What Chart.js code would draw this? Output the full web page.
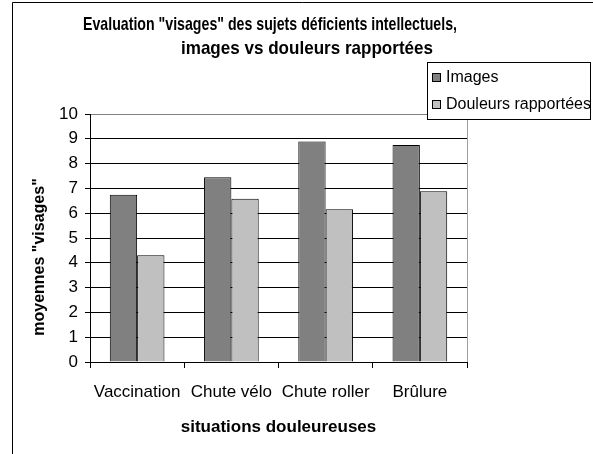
<!DOCTYPE html>
<html lang="fr">
<head>
<meta charset="utf-8">
<title>Evaluation "visages"</title>
<script src="https://cdn.jsdelivr.net/npm/chart.js@4.4.1/dist/chart.umd.min.js"></script>
<style>
  html, body { margin: 0; padding: 0; background: #fff; }
  #chart { display: block; }
</style>
</head>
<body>
<canvas id="chart" width="593" height="454"></canvas>
<script>
// Données
const categories = ["Vaccination", "Chute vélo", "Chute roller", "Brûlure"];
const seriesNames = ["Images", "Douleurs rapportées"];
const imagesValues = [6.74, 7.45, 8.89, 8.75];
const douleursValues = [4.30, 6.58, 6.16, 6.89];
const yTicks = [0, 1, 2, 3, 4, 5, 6, 7, 8, 9, 10];
const titleLines = ['Evaluation "visages" des sujets déficients intellectuels,', 'images vs douleurs rapportées'];
const xTitle = "situations douleureuses";
const yTitle = 'moyennes "visages"';

const FONT = "'Liberation Sans', Arial, sans-serif";
const colors = ["#808080", "#c0c0c0"];

// Écrit un texte centré, comprimé à la largeur voulue (titre style Excel)
function drawFitted(ctx, text, cx, y, width) {
    const w = ctx.measureText(text).width;
    ctx.save();
    ctx.translate(cx, y);
    ctx.scale(width / w, 1);
    ctx.fillText(text, 0, 0);
    ctx.restore();
}

// Cadre, titre, titre vertical et légende
const decorPlugin = {
    id: "decor",
    afterDraw(chart) {
        const ctx = chart.ctx;
        const area = chart.chartArea;
        ctx.save();

        // cadre extérieur (seuls les bords gauche et haut sont visibles)
        ctx.strokeStyle = "#000";
        ctx.lineWidth = 1;
        ctx.beginPath();
        ctx.moveTo(12.5, 454);
        ctx.lineTo(12.5, 2.5);
        ctx.lineTo(593, 2.5);
        ctx.stroke();

        // bord droit de la zone de traçage
        const xr = Math.round(area.right) + 0.5;
        ctx.strokeStyle = "#a0a0a0";
        ctx.beginPath();
        ctx.moveTo(xr, area.top);
        ctx.lineTo(xr, area.bottom);
        ctx.stroke();

        // titre sur deux lignes
        ctx.fillStyle = "#000";
        ctx.font = "bold 19px " + FONT;
        ctx.textAlign = "center";
        ctx.textBaseline = "alphabetic";
        drawFitted(ctx, titleLines[0], 270, 29.5, 374);
        drawFitted(ctx, titleLines[1], 307, 54, 252);

        // titre de l'axe vertical
        ctx.save();
        ctx.translate(40, 257);
        ctx.rotate(-Math.PI / 2);
        ctx.font = "bold 16px " + FONT;
        ctx.textBaseline = "middle";
        ctx.fillText(yTitle, 0, 0);
        ctx.restore();

        // légende
        ctx.fillStyle = "#fff";
        ctx.fillRect(427.5, 62.5, 163, 57);
        ctx.strokeStyle = "#000";
        ctx.strokeRect(427.5, 62.5, 163, 57);
        ctx.font = "16px " + FONT;
        ctx.textAlign = "left";
        ctx.textBaseline = "middle";
        chart.data.datasets.forEach((ds, i) => {
            const yc = 78 + i * 27;
            ctx.fillStyle = ds.backgroundColor;
            ctx.fillRect(432.5, yc - 4.5, 8, 8);
            ctx.strokeStyle = "#000";
            ctx.strokeRect(432.5, yc - 4.5, 8, 8);
            ctx.fillStyle = "#000";
            ctx.fillText(ds.label, 446, yc);
        });

        ctx.restore();
    }
};

const chart = new Chart(document.getElementById("chart"), {
    type: "bar",
    data: {
        labels: categories,
        datasets: [
            { label: seriesNames[0], data: imagesValues, backgroundColor: colors[0] },
            { label: seriesNames[1], data: douleursValues, backgroundColor: colors[1] }
        ]
    },
    options: {
        responsive: false,
        devicePixelRatio: 1,
        animation: false,
        layout: { padding: { left: 50, top: 114, right: 126, bottom: 0 } },
        datasets: {
            bar: {
                borderColor: "#000",
                borderWidth: 1,
                borderSkipped: "bottom",
                categoryPercentage: 0.58,
                barPercentage: 1
            }
        },
        plugins: {
            legend: { display: false },
            title: { display: false },
            tooltip: { enabled: false }
        },
        scales: {
            x: {
                offset: true,
                afterFit(scale) { scale.height = 92; },
                grid: {
                    offset: true,
                    drawOnChartArea: false,
                    drawTicks: true,
                    tickLength: 6,
                    color: "#000"
                },
                border: { display: true, color: "#000", width: 1 },
                ticks: {
                    color: "#000",
                    font: { family: FONT, size: 17 },
                    padding: 14,
                    maxRotation: 0,
                    autoSkip: false
                },
                title: {
                    display: true,
                    text: xTitle,
                    color: "#000",
                    font: { family: FONT, size: 17, weight: "bold" },
                    padding: { top: 0, bottom: 16 }
                }
            },
            y: {
                min: 0,
                max: 10,
                afterFit(scale) { scale.width = 40; },
                afterBuildTicks(scale) { scale.ticks = yTicks.map(v => ({ value: v })); },
                grid: {
                    color: ctx => (ctx.tick && ctx.tick.value === 10 ? "#808080" : "#000"),
                    tickColor: "#000",
                    tickLength: 5,
                    drawTicks: true
                },
                border: { display: true, color: "#000", width: 1 },
                ticks: {
                    color: "#000",
                    font: { family: FONT, size: 17 },
                    padding: 7
                },
                title: { display: false }
            }
        }
    },
    plugins: [decorPlugin]
});
</script>
</body>
</html>
